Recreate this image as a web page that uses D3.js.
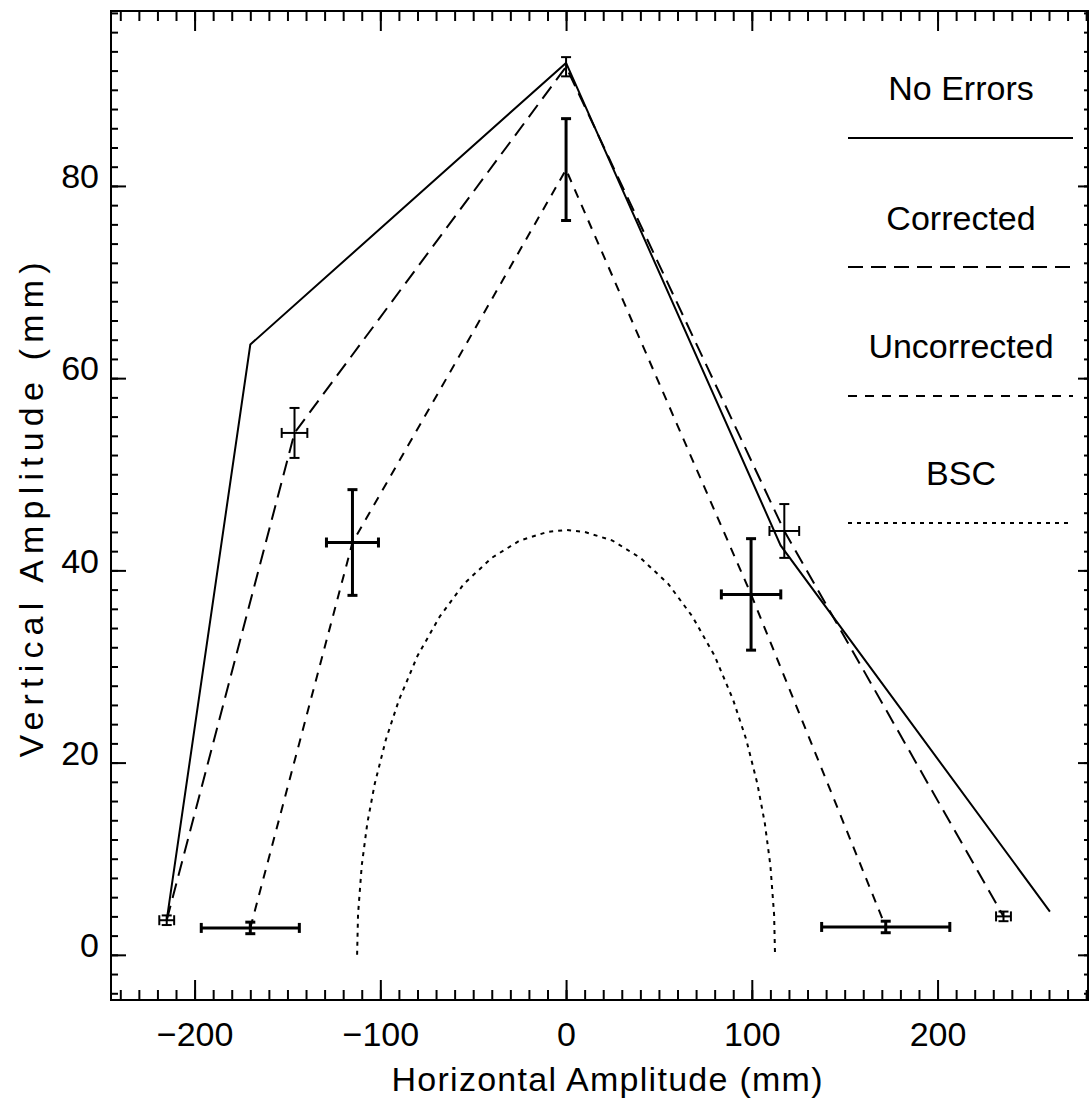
<!DOCTYPE html>
<html lang="en">
<head>
    <meta charset="UTF-8">
    <title>Vertical vs Horizontal Amplitude</title>
    <script src="https://d3js.org/d3.v7.min.js"></script>
    <style>
        body { margin: 0; background: #fff; }
        text { font-family: "Liberation Sans", Arial, sans-serif; fill: #000; }
    </style>
</head>
<body>
    <script>
        // Data (mm)
        const noErrX = [-215, -170, 0, 115.5, 260.5];
        const noErrY = [3.6, 63.5, 92.8, 42.6, 4.5];

        const corrX = [-215, -146.2, 0, 117.5, 235.5];
        const corrY = [3.6, 54.3, 92.4, 44.1, 4.0];
        const corrXErr = [4, 6.9, 0, 8, 4];
        const corrYErr = [0.5, 2.6, 1.0, 2.8, 0.5];

        const uncX = [-170, -115, 0, 99.6, 172.1];
        const uncY = [2.8, 42.9, 81.7, 37.5, 2.9];
        const uncXErr = [26.4, 14, 0, 16, 34.5];
        const uncYErr = [0.6, 5.5, 5.3, 5.8, 0.6];

        const bscX = [-112.5, -112, -110, -107, -103, -97, -90, -80, -68, -55, -40, -25, -10, 0,
                      10, 25, 40, 55, 68, 80, 90, 97, 103, 107, 110, 112, 112.5];
        const bscY = [0, 4.2, 9.3, 13.7, 17.8, 22.4, 26.5, 31.1, 35.2, 38.6, 41.3, 43.1, 44.0, 44.2,
                      44.0, 43.1, 41.3, 38.6, 35.2, 31.1, 26.5, 22.4, 17.8, 13.7, 9.3, 4.2, 0];

        const legendLabels = ['No Errors', 'Corrected', 'Uncorrected', 'BSC'];
        const xMajor = [-200, -100, 0, 100, 200];
        const yMajor = [0, 20, 40, 60, 80];

        const width = 1090;
        const height = 1099;
        const svg = d3.select('body')
            .append('svg')
            .attr('width', width)
            .attr('height', height);

        const x = d3.scaleLinear().domain([-245, 281]).range([111, 1088]);
        const y = d3.scaleLinear().domain([-4.7, 98.2]).range([1000, 11]);

        const xMinor = d3.range(-240, 281, 10);
        const yMinor = d3.range(-4, 99, 2);

        function styleAxis(g) {
            g.select('.domain').remove();
            g.selectAll('line').attr('stroke', '#000').attr('stroke-width', 2);
            g.attr('font-size', 34).attr('font-family', null);
        }

        // bottom axis
        svg.append('g')
            .attr('transform', `translate(0,${y.range()[0]})`)
            .call(d3.axisBottom(x).tickValues(xMinor).tickSize(-10).tickFormat(''))
            .call(styleAxis);
        svg.append('g')
            .attr('transform', `translate(0,${y.range()[0]})`)
            .call(d3.axisBottom(x).tickValues(xMajor).tickSize(-20).tickPadding(22))
            .call(styleAxis);

        // top axis
        svg.append('g')
            .attr('transform', `translate(0,${y.range()[1]})`)
            .call(d3.axisTop(x).tickValues(xMinor).tickSize(-10).tickFormat(''))
            .call(styleAxis);
        svg.append('g')
            .attr('transform', `translate(0,${y.range()[1]})`)
            .call(d3.axisTop(x).tickValues(xMajor).tickSize(-20).tickFormat(''))
            .call(styleAxis);

        // left axis
        svg.append('g')
            .attr('transform', `translate(${x.range()[0]},0)`)
            .call(d3.axisLeft(y).tickValues(yMinor).tickSize(-7).tickFormat(''))
            .call(styleAxis);
        svg.append('g')
            .attr('transform', `translate(${x.range()[0]},0)`)
            .call(d3.axisLeft(y).tickValues(yMajor).tickSize(-15).tickPadding(12))
            .call(styleAxis)
            .selectAll('text').attr('dy', '0.05em');

        // right axis
        svg.append('g')
            .attr('transform', `translate(${x.range()[1]},0)`)
            .call(d3.axisRight(y).tickValues(yMinor).tickSize(-4).tickFormat(''))
            .call(styleAxis);
        svg.append('g')
            .attr('transform', `translate(${x.range()[1]},0)`)
            .call(d3.axisRight(y).tickValues(yMajor).tickSize(-10).tickFormat(''))
            .call(styleAxis);

        // frame
        svg.append('rect')
            .attr('x', x.range()[0])
            .attr('y', y.range()[1])
            .attr('width', x.range()[1] - x.range()[0])
            .attr('height', y.range()[0] - y.range()[1])
            .attr('fill', 'none')
            .attr('stroke', '#000')
            .attr('stroke-width', 2);

        // axis titles
        svg.append('text')
            .attr('x', 607)
            .attr('y', 1091)
            .attr('text-anchor', 'middle')
            .attr('font-size', 34)
            .attr('textLength', 431)
            .attr('lengthAdjust', 'spacing')
            .text('Horizontal Amplitude (mm)');

        svg.append('text')
            .attr('transform', 'translate(43,510) rotate(-90)')
            .attr('text-anchor', 'middle')
            .attr('font-size', 34)
            .attr('textLength', 495)
            .attr('lengthAdjust', 'spacing')
            .text('Vertical Amplitude (mm)');

        const line = d3.line().x(d => x(d[0])).y(d => y(d[1]));

        const series = [
            { xs: noErrX, ys: noErrY, dash: null },
            { xs: corrX, ys: corrY, dash: '15,8' },
            { xs: uncX, ys: uncY, dash: '9,8' },
            { xs: bscX, ys: bscY, dash: '4,5' }
        ];

        series.forEach(s => {
            svg.append('path')
                .datum(s.xs.map((v, i) => [v, s.ys[i]]))
                .attr('d', line)
                .attr('fill', 'none')
                .attr('stroke', '#000')
                .attr('stroke-width', 2)
                .attr('stroke-dasharray', s.dash);
        });

        // error bars
        function errorBars(xs, ys, xe, ye, sw) {
            const cap = 5;
            const g = svg.append('g').attr('stroke', '#000').attr('stroke-width', sw);
            xs.forEach((v, i) => {
                const cx = x(v), cy = y(ys[i]);
                if (xe[i] > 0) {
                    const x0 = x(v - xe[i]), x1 = x(v + xe[i]);
                    g.append('line').attr('x1', x0).attr('x2', x1).attr('y1', cy).attr('y2', cy);
                    g.append('line').attr('x1', x0).attr('x2', x0).attr('y1', cy - cap).attr('y2', cy + cap);
                    g.append('line').attr('x1', x1).attr('x2', x1).attr('y1', cy - cap).attr('y2', cy + cap);
                }
                if (ye[i] > 0) {
                    const y0 = y(ys[i] - ye[i]), y1 = y(ys[i] + ye[i]);
                    g.append('line').attr('x1', cx).attr('x2', cx).attr('y1', y0).attr('y2', y1);
                    g.append('line').attr('x1', cx - cap).attr('x2', cx + cap).attr('y1', y0).attr('y2', y0);
                    g.append('line').attr('x1', cx - cap).attr('x2', cx + cap).attr('y1', y1).attr('y2', y1);
                }
            });
        }
        errorBars(corrX, corrY, corrXErr, corrYErr, 2);
        errorBars(uncX, uncY, uncXErr, uncYErr, 3);

        // legend
        const legendTextY = [100, 230, 358, 485];
        const legendLineY = [138, 267, 396, 523];
        legendLabels.forEach((lab, i) => {
            svg.append('text')
                .attr('x', 961)
                .attr('y', legendTextY[i])
                .attr('text-anchor', 'middle')
                .attr('font-size', 34)
                .text(lab);
            svg.append('line')
                .attr('x1', 848)
                .attr('x2', 1073)
                .attr('y1', legendLineY[i])
                .attr('y2', legendLineY[i])
                .attr('stroke', '#000')
                .attr('stroke-width', 2)
                .attr('stroke-dasharray', series[i].dash);
        });
    </script>
</body>
</html>
